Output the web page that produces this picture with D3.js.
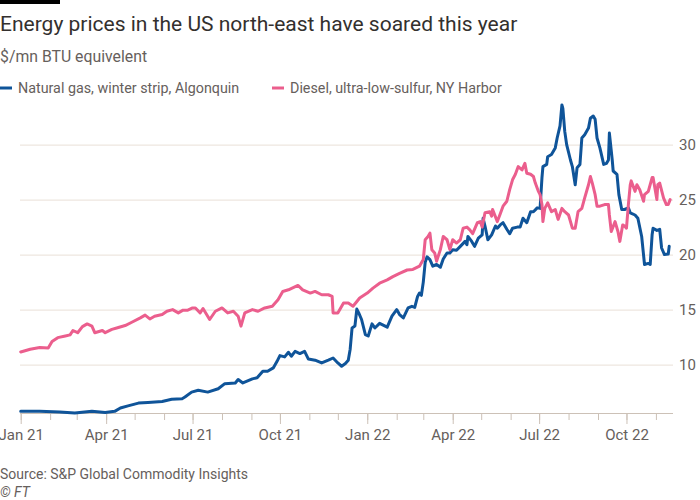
<!DOCTYPE html>
<html>
<head>
<meta charset="utf-8">
<script src="https://cdn.jsdelivr.net/npm/d3@7"></script>
<style>
  html, body { margin: 0; padding: 0; background: #fff; }
  svg { display: block; font-family: Roboto, "Noto Sans", sans-serif; }
</style>
</head>
<body>
<svg id="chart" width="700" height="500"></svg>
<script>
// ---------- DATA ----------
const titleText = "Energy prices in the US north-east have soared this year";
const subtitleText = "$/mn BTU equivelent";
const seriesNames = ["Natural gas, winter strip, Algonquin", "Diesel, ultra-low-sulfur, NY Harbor"];
const seriesColors = ["#0f5499", "#eb5e8d"];
const sourceText = "Source: S&P Global Commodity Insights";
const yTicks = [10, 15, 20, 25, 30];

const gasDates = [
"2021-01-01","2021-01-21","2021-02-11","2021-02-27","2021-03-17","2021-03-31","2021-04-10","2021-04-16","2021-04-24","2021-05-05",
"2021-05-15","2021-05-30","2021-06-09","2021-06-20","2021-06-23","2021-06-30","2021-07-07","2021-07-17","2021-07-28","2021-08-04",
"2021-08-15","2021-08-18","2021-08-23","2021-09-02","2021-09-07","2021-09-13","2021-09-18","2021-09-24","2021-09-28","2021-10-01",
"2021-10-06","2021-10-10","2021-10-13","2021-10-17","2021-10-22","2021-10-27","2021-10-31","2021-11-07","2021-11-14","2021-11-21",
"2021-11-26","2021-12-01","2021-12-05","2021-12-09","2021-12-12","2021-12-14","2021-12-16","2021-12-19","2021-12-21","2021-12-23",
"2021-12-26","2021-12-30","2022-01-02","2022-01-06","2022-01-09","2022-01-14","2022-01-22","2022-01-27","2022-02-01","2022-02-04",
"2022-02-08","2022-02-13","2022-02-17","2022-02-20","2022-02-23","2022-02-25","2022-02-27","2022-03-01","2022-03-03","2022-03-05",
"2022-03-08","2022-03-11","2022-03-15","2022-03-19","2022-03-22","2022-03-26","2022-03-29","2022-04-01","2022-04-05","2022-04-09",
"2022-04-14","2022-04-16","2022-04-17","2022-04-21","2022-04-24","2022-04-28","2022-05-02","2022-05-03","2022-05-05","2022-05-08",
"2022-05-12","2022-05-16","2022-05-18","2022-05-21","2022-05-24","2022-05-28","2022-05-31","2022-06-03","2022-06-08","2022-06-11",
"2022-06-14","2022-06-18","2022-06-22","2022-06-25","2022-06-29","2022-07-02","2022-07-04","2022-07-05","2022-07-09","2022-07-10",
"2022-07-14","2022-07-18","2022-07-20","2022-07-23","2022-07-25","2022-07-26","2022-07-28","2022-07-30","2022-08-03","2022-08-05",
"2022-08-08","2022-08-10","2022-08-13","2022-08-15","2022-08-18","2022-08-22","2022-08-24","2022-08-27","2022-08-29","2022-08-31",
"2022-09-03","2022-09-07","2022-09-10","2022-09-12","2022-09-13","2022-09-16","2022-09-17","2022-09-21","2022-09-23","2022-09-26",
"2022-09-29","2022-10-03","2022-10-05","2022-10-10","2022-10-13","2022-10-17","2022-10-20","2022-10-24","2022-10-26","2022-10-28",
"2022-10-29","2022-11-02","2022-11-05","2022-11-07","2022-11-10","2022-11-14","2022-11-15"];
const gasValues = [
5.75,5.75,5.7,5.6,5.75,5.65,5.75,6.05,6.25,6.5,
6.55,6.65,6.85,6.9,7.05,7.5,7.67,7.5,7.8,8.27,
8.33,8.64,8.33,8.7,8.8,9.4,9.4,9.7,10.3,10.82,
10.7,11.12,10.76,11.2,11.0,11.2,10.5,10.4,10.15,10.4,
10.6,10.15,9.85,10.1,10.4,11.4,13.33,13.5,15.05,14.7,
14.1,12.73,12.6,13.7,13.33,13.75,13.4,14.4,15.0,14.55,
14.24,15.15,15.3,15.2,16.2,16.5,16.3,17.5,19.3,19.8,
19.55,18.95,19.1,18.85,19.6,20.15,20.15,20.45,20.4,20.75,
21.2,20.9,21.65,21.2,20.75,21.5,21.8,23.3,22.6,21.35,
21.8,22.6,22.4,22.7,22.9,22.3,21.9,22.4,22.5,22.5,
23.3,22.9,23.9,23.9,24.25,24.2,27.0,28.0,28.2,28.9,
29.1,29.7,30.6,31.7,33.6,33.3,31.2,30.0,28.6,28.0,
26.35,27.9,28.2,30.6,30.9,31.5,32.4,32.6,32.3,30.6,
29.7,28.2,28.3,28.6,31.05,28.6,27.6,27.3,25.45,24.1,
24.1,24.25,23.8,23.6,23.3,21.65,19.1,19.2,19.1,21.8,
22.4,22.2,22.3,20.6,20.0,20.05,20.75];

const dieselDates = [
"2021-01-01","2021-01-11","2021-01-21","2021-01-30","2021-02-03","2021-02-09","2021-02-17","2021-02-22","2021-02-25","2021-03-02",
"2021-03-07","2021-03-12","2021-03-17","2021-03-20","2021-03-28","2021-03-31","2021-04-07","2021-04-13","2021-04-21","2021-04-28",
"2021-05-07","2021-05-12","2021-05-17","2021-05-22","2021-05-30","2021-06-04","2021-06-10","2021-06-16","2021-06-21","2021-06-26",
"2021-07-01","2021-07-04","2021-07-09","2021-07-12","2021-07-19","2021-07-25","2021-08-01","2021-08-07","2021-08-13","2021-08-18",
"2021-08-21","2021-08-25","2021-09-02","2021-09-08","2021-09-15","2021-09-23","2021-09-29","2021-10-04","2021-10-10","2021-10-15",
"2021-10-20","2021-10-25","2021-11-02","2021-11-07","2021-11-14","2021-11-21","2021-11-25","2021-11-26","2021-12-01","2021-12-07",
"2021-12-12","2021-12-17","2021-12-24","2022-01-01","2022-01-07","2022-01-14","2022-01-22","2022-01-28","2022-02-04","2022-02-12",
"2022-02-18","2022-02-25","2022-03-01","2022-03-03","2022-03-06","2022-03-08","2022-03-10","2022-03-13","2022-03-15","2022-03-19",
"2022-03-22","2022-03-26","2022-03-29","2022-04-01","2022-04-05","2022-04-09","2022-04-12","2022-04-16","2022-04-19","2022-04-22",
"2022-04-27","2022-04-30","2022-05-02","2022-05-05","2022-05-10","2022-05-12","2022-05-13","2022-05-18","2022-05-21","2022-05-24",
"2022-05-28","2022-05-31","2022-06-03","2022-06-06","2022-06-09","2022-06-13","2022-06-16","2022-06-18","2022-06-22","2022-06-25",
"2022-06-27","2022-06-30","2022-07-02","2022-07-04","2022-07-05","2022-07-07","2022-07-10","2022-07-14","2022-07-18","2022-07-21",
"2022-07-25","2022-07-28","2022-08-01","2022-08-05","2022-08-08","2022-08-11","2022-08-15","2022-08-18","2022-08-22","2022-08-24",
"2022-08-26","2022-08-29","2022-08-31","2022-09-03","2022-09-08","2022-09-12","2022-09-13","2022-09-15","2022-09-19","2022-09-22",
"2022-09-24","2022-09-27","2022-09-29","2022-10-01","2022-10-03","2022-10-05","2022-10-06","2022-10-10","2022-10-12","2022-10-15",
"2022-10-19","2022-10-20","2022-10-24","2022-10-28","2022-10-29","2022-11-02","2022-11-03","2022-11-05","2022-11-09","2022-11-12",
"2022-11-14","2022-11-16"];
const dieselValues = [
11.15,11.4,11.55,11.5,12.1,12.45,12.6,12.7,13.1,12.9,
13.45,13.7,13.5,12.9,13.1,12.9,13.2,13.35,13.55,13.85,
14.25,14.5,14.15,14.4,14.55,14.85,15.0,14.7,14.95,14.95,
15.15,15.15,14.7,15.1,14.1,14.85,15.15,14.7,14.85,14.4,
13.5,14.7,15.0,14.85,15.15,15.3,15.9,16.65,16.8,17.0,
17.2,16.8,16.5,16.65,16.35,16.35,16.2,14.7,14.7,15.6,
15.6,15.3,16.05,16.5,16.95,17.4,17.7,18.0,18.3,18.6,
18.65,18.95,19.55,21.35,21.65,21.95,20.45,20.15,19.4,20.45,
21.65,21.35,20.45,21.35,21.05,21.35,22.4,22.5,22.25,21.9,
22.9,23.0,22.5,23.8,23.9,23.5,24.1,23.0,23.7,24.4,
24.85,25.9,26.8,27.3,28.0,27.7,28.3,27.4,27.3,27.1,
26.5,25.8,25.45,24.55,23.0,24.2,24.7,23.9,24.1,23.2,
24.2,23.9,23.6,22.4,22.4,23.9,24.2,25.15,26.35,27.1,
26.5,25.45,24.4,24.4,24.55,24.55,23.6,22.1,23.0,22.1,
21.2,22.7,22.6,22.4,24.55,26.35,26.7,25.75,26.35,25.9,
24.85,25.45,25.75,27.0,27.0,25.0,26.35,26.5,25.15,24.55,
24.55,25.0];

// ---------- CHART ----------
const parse = d3.timeParse("%Y-%m-%d");
const gas = gasDates.map((d, i) => ({ date: parse(d), value: gasValues[i] }));
const diesel = dieselDates.map((d, i) => ({ date: parse(d), value: dieselValues[i] }));

const svg = d3.select("#chart");
const textDark = "#33302e", textGrey = "#66605c";

svg.append("rect").attr("x", 0).attr("y", 0).attr("width", 60).attr("height", 4).attr("fill", "#000");

svg.append("text").attr("x", 0).attr("y", 31).attr("font-size", 21).attr("fill", textDark).text(titleText);
svg.append("text").attr("x", 0).attr("y", 62).attr("font-size", 15.8).attr("fill", textGrey).text(subtitleText);

// Legend
const legendX = [0, 272];
seriesNames.forEach((name, i) => {
  const g = svg.append("g").attr("transform", `translate(${legendX[i]},0)`);
  g.append("line").attr("x1", 0).attr("x2", 12).attr("y1", 88).attr("y2", 88)
    .attr("stroke", seriesColors[i]).attr("stroke-width", 3);
  g.append("text").attr("x", 18).attr("y", 93).attr("font-size", 14.3).attr("fill", textGrey).text(name);
});

const x = d3.scaleTime()
  .domain([new Date(2021, 0, 1), new Date(2022, 10, 19)])
  .range([20.7, 673]);
const y = d3.scaleLinear().domain([5.6, 33.6]).range([413, 105]);

// Grid lines + y labels
const yAxis = d3.axisRight(y).tickValues(yTicks).tickSize(673 - 20).tickFormat(d3.format("d"));
const gy = svg.append("g").attr("transform", "translate(20,0)").call(yAxis);
gy.select(".domain").remove();
gy.selectAll(".tick line").attr("stroke", "#e9e0d7").attr("stroke-width", 1);
gy.selectAll(".tick text").attr("x", 659).attr("dy", "0.35em").attr("font-size", 15)
  .attr("fill", textGrey).attr("font-family", "Roboto, sans-serif");

// x axis: minor monthly ticks
const minor = d3.axisBottom(x).ticks(d3.timeMonth.every(1)).tickSize(7).tickFormat("");
const gMinor = svg.append("g").attr("transform", "translate(0,413)").call(minor);
gMinor.select(".domain").remove();
gMinor.selectAll(".tick line").attr("stroke", "#ccc1b7");

const major = d3.axisBottom(x).ticks(d3.timeMonth.every(3)).tickSize(11).tickSizeOuter(0)
  .tickFormat(d3.timeFormat("%b %y"));
const gMajor = svg.append("g").attr("transform", "translate(0,413)").call(major);
gMajor.select(".domain").attr("stroke", "#ccc1b7").attr("d", `M20,0.5H673`);
gMajor.selectAll(".tick line").attr("stroke", "#ccc1b7");
gMajor.selectAll(".tick text").attr("font-size", 15).attr("fill", textGrey).attr("y", 16)
  .attr("font-family", "Roboto, sans-serif");

// Lines
const line = d3.line().x(d => x(d.date)).y(d => y(d.value)).curve(d3.curveLinear);
[gas, diesel].forEach((data, i) => {
  svg.append("path").datum(data).attr("d", line).attr("fill", "none")
    .attr("stroke", seriesColors[i]).attr("stroke-width", 3)
    .attr("stroke-linejoin", "round").attr("stroke-linecap", "round");
});

// Footer
svg.append("text").attr("x", 0).attr("y", 479).attr("font-size", 14).attr("fill", textGrey).text(sourceText);
svg.append("text").attr("x", 0).attr("y", 497).attr("font-size", 14).attr("fill", textGrey)
  .attr("font-style", "italic").text("© FT");
</script>
</body>
</html>
